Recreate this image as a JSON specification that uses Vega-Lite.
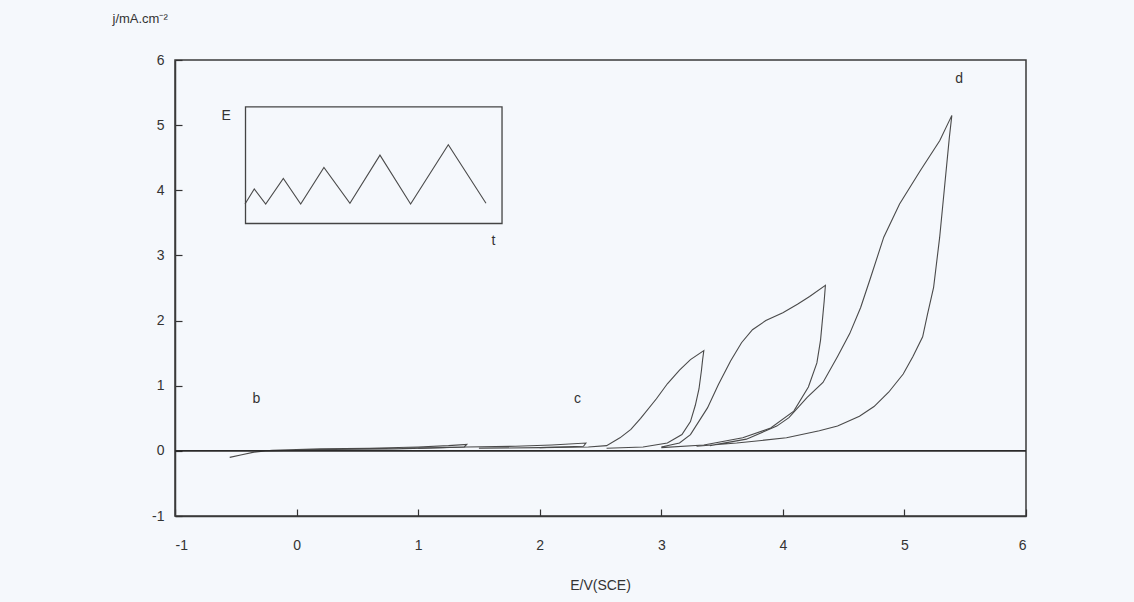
{
  "$schema": "https://vega.github.io/schema/vega-lite/v6.json",
  "width": 851,
  "height": 456,
  "autosize": {"type": "none"},
  "padding": {"left": 175, "top": 60, "right": 108, "bottom": 86},
  "background": "#f5f8fc",
  "config": {
    "view": {"stroke": "#3a3a3a", "strokeWidth": 1.5},
    "font": "Liberation Sans",
    "axis": {
      "grid": false,
      "domainColor": "#3a3a3a",
      "domainWidth": 1.5,
      "ticks": true,
      "tickColor": "#333",
      "tickWidth": 1.2,
      "tickSize": -7,
      "labelFont": "Liberation Sans",
      "labelFontSize": 14,
      "labelColor": "#333",
      "titleFont": "Liberation Sans",
      "titleFontSize": 14,
      "titleFontWeight": "normal",
      "titleColor": "#333"
    }
  },
  "datasets": {
    "curves": [
      {"s": "A", "i": 1, "E": -0.55, "j": -0.10},
      {"s": "A", "i": 2, "E": -0.45, "j": -0.06},
      {"s": "A", "i": 3, "E": -0.35, "j": -0.02},
      {"s": "A", "i": 4, "E": -0.2, "j": 0.01},
      {"s": "A", "i": 5, "E": 0.2, "j": 0.03},
      {"s": "A", "i": 6, "E": 0.6, "j": 0.04},
      {"s": "A", "i": 7, "E": 1.0, "j": 0.06},
      {"s": "A", "i": 8, "E": 1.25, "j": 0.08},
      {"s": "A", "i": 9, "E": 1.4, "j": 0.10},
      {"s": "A", "i": 10, "E": 1.38, "j": 0.06},
      {"s": "A", "i": 11, "E": 1.2, "j": 0.05},
      {"s": "A", "i": 12, "E": 0.8, "j": 0.03},
      {"s": "A", "i": 13, "E": 0.3, "j": 0.02},
      {"s": "A", "i": 14, "E": -0.3, "j": 0.0},
      {"s": "B", "i": 1, "E": 1.0, "j": 0.04},
      {"s": "B", "i": 2, "E": 1.4, "j": 0.06},
      {"s": "B", "i": 3, "E": 1.8, "j": 0.07},
      {"s": "B", "i": 4, "E": 2.1, "j": 0.09},
      {"s": "B", "i": 5, "E": 2.38, "j": 0.12},
      {"s": "B", "i": 6, "E": 2.36, "j": 0.07},
      {"s": "B", "i": 7, "E": 2.0, "j": 0.05},
      {"s": "B", "i": 8, "E": 1.5, "j": 0.04},
      {"s": "L1", "i": 1, "E": 2.0, "j": 0.05},
      {"s": "L1", "i": 2, "E": 2.4, "j": 0.06},
      {"s": "L1", "i": 3, "E": 2.55, "j": 0.08},
      {"s": "L1", "i": 4, "E": 2.66, "j": 0.20},
      {"s": "L1", "i": 5, "E": 2.75, "j": 0.33},
      {"s": "L1", "i": 6, "E": 2.83, "j": 0.50},
      {"s": "L1", "i": 7, "E": 2.96, "j": 0.80},
      {"s": "L1", "i": 8, "E": 3.05, "j": 1.03},
      {"s": "L1", "i": 9, "E": 3.15, "j": 1.24},
      {"s": "L1", "i": 10, "E": 3.24, "j": 1.40},
      {"s": "L1", "i": 11, "E": 3.35, "j": 1.54},
      {"s": "L1", "i": 12, "E": 3.34, "j": 1.40},
      {"s": "L1", "i": 13, "E": 3.33, "j": 1.23},
      {"s": "L1", "i": 14, "E": 3.31, "j": 0.95},
      {"s": "L1", "i": 15, "E": 3.28, "j": 0.70},
      {"s": "L1", "i": 16, "E": 3.24, "j": 0.45},
      {"s": "L1", "i": 17, "E": 3.17, "j": 0.25},
      {"s": "L1", "i": 18, "E": 3.05, "j": 0.12},
      {"s": "L1", "i": 19, "E": 2.85, "j": 0.06},
      {"s": "L1", "i": 20, "E": 2.55, "j": 0.04},
      {"s": "L2", "i": 1, "E": 3.0, "j": 0.06},
      {"s": "L2", "i": 2, "E": 3.15, "j": 0.12},
      {"s": "L2", "i": 3, "E": 3.24, "j": 0.25},
      {"s": "L2", "i": 4, "E": 3.38, "j": 0.66},
      {"s": "L2", "i": 5, "E": 3.47, "j": 1.02},
      {"s": "L2", "i": 6, "E": 3.57, "j": 1.38},
      {"s": "L2", "i": 7, "E": 3.66, "j": 1.66},
      {"s": "L2", "i": 8, "E": 3.75, "j": 1.86},
      {"s": "L2", "i": 9, "E": 3.86, "j": 2.00},
      {"s": "L2", "i": 10, "E": 4.00, "j": 2.12},
      {"s": "L2", "i": 11, "E": 4.12, "j": 2.25},
      {"s": "L2", "i": 12, "E": 4.22, "j": 2.37},
      {"s": "L2", "i": 13, "E": 4.35, "j": 2.54},
      {"s": "L2", "i": 14, "E": 4.34, "j": 2.30},
      {"s": "L2", "i": 15, "E": 4.31, "j": 1.70},
      {"s": "L2", "i": 16, "E": 4.28, "j": 1.35},
      {"s": "L2", "i": 17, "E": 4.21, "j": 0.98},
      {"s": "L2", "i": 18, "E": 4.09, "j": 0.61},
      {"s": "L2", "i": 19, "E": 3.90, "j": 0.35},
      {"s": "L2", "i": 20, "E": 3.67, "j": 0.20},
      {"s": "L2", "i": 21, "E": 3.35, "j": 0.09},
      {"s": "L2", "i": 22, "E": 3.0, "j": 0.05},
      {"s": "L3", "i": 1, "E": 3.4, "j": 0.08},
      {"s": "L3", "i": 2, "E": 3.7, "j": 0.18},
      {"s": "L3", "i": 3, "E": 3.95, "j": 0.38},
      {"s": "L3", "i": 4, "E": 4.05, "j": 0.51},
      {"s": "L3", "i": 5, "E": 4.2, "j": 0.82},
      {"s": "L3", "i": 6, "E": 4.33, "j": 1.05},
      {"s": "L3", "i": 7, "E": 4.45, "j": 1.45},
      {"s": "L3", "i": 8, "E": 4.55, "j": 1.80},
      {"s": "L3", "i": 9, "E": 4.64, "j": 2.20},
      {"s": "L3", "i": 10, "E": 4.72, "j": 2.65},
      {"s": "L3", "i": 11, "E": 4.83, "j": 3.28},
      {"s": "L3", "i": 12, "E": 4.96, "j": 3.79},
      {"s": "L3", "i": 13, "E": 5.13, "j": 4.30},
      {"s": "L3", "i": 14, "E": 5.29, "j": 4.76},
      {"s": "L3", "i": 15, "E": 5.39, "j": 5.15},
      {"s": "L3", "i": 16, "E": 5.37, "j": 4.82},
      {"s": "L3", "i": 17, "E": 5.33, "j": 4.05},
      {"s": "L3", "i": 18, "E": 5.29, "j": 3.28},
      {"s": "L3", "i": 19, "E": 5.24, "j": 2.51},
      {"s": "L3", "i": 20, "E": 5.19, "j": 2.10},
      {"s": "L3", "i": 21, "E": 5.15, "j": 1.75},
      {"s": "L3", "i": 22, "E": 5.07, "j": 1.45},
      {"s": "L3", "i": 23, "E": 4.99, "j": 1.18},
      {"s": "L3", "i": 24, "E": 4.87, "j": 0.90},
      {"s": "L3", "i": 25, "E": 4.75, "j": 0.68},
      {"s": "L3", "i": 26, "E": 4.63, "j": 0.53},
      {"s": "L3", "i": 27, "E": 4.45, "j": 0.38},
      {"s": "L3", "i": 28, "E": 4.30, "j": 0.31},
      {"s": "L3", "i": 29, "E": 4.03, "j": 0.20},
      {"s": "L3", "i": 30, "E": 3.62, "j": 0.12},
      {"s": "L3", "i": 31, "E": 3.29, "j": 0.07},
      {"s": "inset", "i": 1, "E": -0.424, "j": 3.79},
      {"s": "inset", "i": 2, "E": -0.348, "j": 4.02},
      {"s": "inset", "i": 3, "E": -0.254, "j": 3.79},
      {"s": "inset", "i": 4, "E": -0.109, "j": 4.18},
      {"s": "inset", "i": 5, "E": 0.034, "j": 3.79},
      {"s": "inset", "i": 6, "E": 0.225, "j": 4.35},
      {"s": "inset", "i": 7, "E": 0.439, "j": 3.80},
      {"s": "inset", "i": 8, "E": 0.686, "j": 4.54},
      {"s": "inset", "i": 9, "E": 0.938, "j": 3.79},
      {"s": "inset", "i": 10, "E": 1.248, "j": 4.70},
      {"s": "inset", "i": 11, "E": 1.558, "j": 3.80}
    ],
    "box": [{"E": -0.42, "E2": 1.69, "j": 3.49, "j2": 5.28}],
    "zero": [{"E": -1, "E2": 6, "j": 0}],
    "labels": [
      {"E": -0.58, "j": 5.14, "t": "E"},
      {"E": 1.62, "j": 3.22, "t": "t"},
      {"E": -0.33, "j": 0.80, "t": "b"},
      {"E": 2.31, "j": 0.80, "t": "c"},
      {"E": 5.45, "j": 5.71, "t": "d"}
    ]
  },
  "layer": [
    {
      "data": {"name": "curves"},
      "mark": {"type": "line", "stroke": "#4a4a4a", "strokeWidth": 1.1},
      "encoding": {
        "x": {
          "field": "E", "type": "quantitative",
          "scale": {"domain": [-1, 6], "nice": false, "zero": false},
          "axis": {"values": [-1, 0, 1, 2, 3, 4, 5, 6], "labelExpr": "datum.value + ''", "title": "E/V(SCE)", "labelPadding": 29, "titleY": 69, "titleBaseline": "middle", "titleX": 425}
        },
        "y": {
          "field": "j", "type": "quantitative",
          "scale": {"domain": [-1, 6], "nice": false, "zero": false},
          "axis": {"values": [-1, 0, 1, 2, 3, 4, 5, 6], "labelExpr": "datum.value + ''", "title": "j/mA.cm⁻²", "labelPadding": 18, "titleAngle": 0, "titleX": -63, "titleY": -42, "titleAlign": "left", "titleBaseline": "middle", "titleFontSize": 13}
        },
        "detail": {"field": "s", "type": "nominal"},
        "order": {"field": "i", "type": "quantitative"}
      }
    },
    {
      "data": {"name": "box"},
      "mark": {"type": "rect", "fill": null, "fillOpacity": 0, "stroke": "#444", "strokeWidth": 1.3},
      "encoding": {
        "x": {"field": "E", "type": "quantitative"},
        "x2": {"field": "E2"},
        "y": {"field": "j", "type": "quantitative"},
        "y2": {"field": "j2"}
      }
    },
    {
      "data": {"name": "zero"},
      "mark": {"type": "rule", "stroke": "#2a2a2a", "strokeWidth": 1.6},
      "encoding": {
        "x": {"field": "E", "type": "quantitative"},
        "x2": {"field": "E2"},
        "y": {"field": "j", "type": "quantitative"}
      }
    },
    {
      "data": {"name": "labels"},
      "mark": {"type": "text", "fontSize": 14, "color": "#333", "font": "Liberation Sans"},
      "encoding": {
        "x": {"field": "E", "type": "quantitative"},
        "y": {"field": "j", "type": "quantitative"},
        "text": {"field": "t"}
      }
    }
  ]
}
